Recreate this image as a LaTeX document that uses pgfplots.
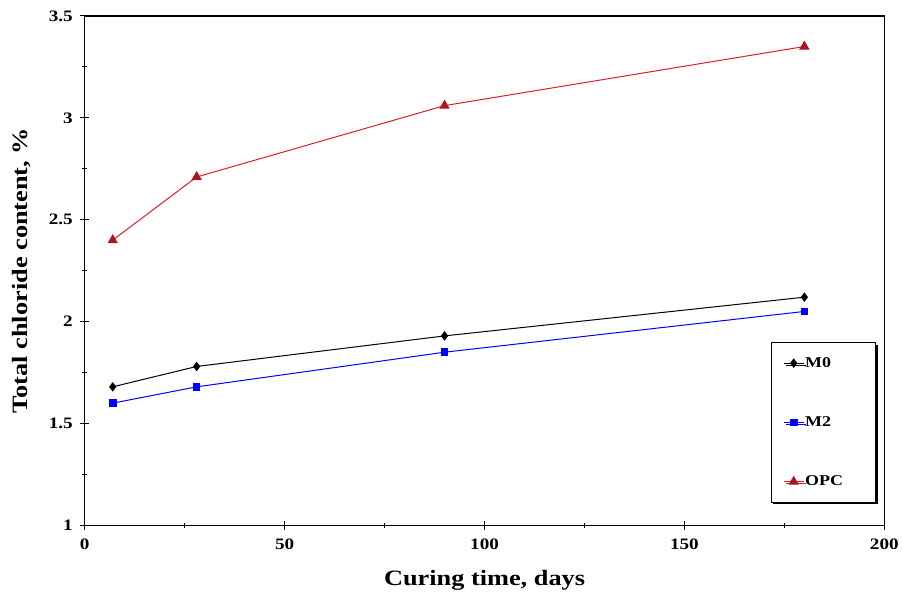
\documentclass[border=0pt]{standalone}
\usepackage{fontspec}
\setmainfont[FakeStretch=1.2]{Liberation Serif}
\usepackage{pgfplots}
\pgfplotsset{compat=1.18}
\usetikzlibrary{shadows}
\definecolor{opcline}{RGB}{220,30,40}
\definecolor{opcmark}{RGB}{175,20,30}
\begin{document}
\begin{tikzpicture}
\begin{axis}[
  at={(0pt,0pt)}, anchor=south west,
  scale only axis, width=802pt, height=511pt,
  xmin=0, xmax=200, ymin=1, ymax=3.5,
  xtick={0,50,...,200}, ytick={1,1.5,...,3.5},
  minor x tick num=1, minor y tick num=1,
  xtick pos=left, ytick pos=left,
  tick align=center,
  major tick length=9pt, minor tick length=5pt,
  axis line style={line width=1.3pt},
  every tick/.style={black, line width=1pt},
  tick label style={font=\fontsize{16}{18}\selectfont\bfseries},
  xticklabel style={yshift=-5pt},
  yticklabel style={/pgf/number format/fixed, xshift=-4pt},
  /pgf/number format/assume math mode=true,
  xlabel={Curing time, days},
  ylabel={Total chloride content, \%},
  label style={font=\fontsize{22}{24}\selectfont\bfseries},
  xlabel style={yshift=-14pt},
  ylabel style={yshift=11pt},
  legend cell align=left,
  legend image code/.code={\draw[#1, mark repeat=2, mark phase=2] plot coordinates {(0pt,0pt)(10pt,0pt)(20pt,0pt)};},
  legend style={at={(rel axis cs:0.858,0.36)}, anchor=north west,
    draw=black, line width=1pt, fill=white,
    font=\fontsize{15}{16}\selectfont\bfseries,
    inner xsep=12pt, inner ysep=14pt, row sep=46pt,
    nodes={inner sep=1pt, text width=58pt},
    drop shadow={shadow xshift=2pt, shadow yshift=-2pt, fill=black, opacity=1}},
]
\addplot[black, line width=1pt, mark=diamond*, mark size=4pt, mark options={solid, fill=black}]
  coordinates {(7,1.68) (28,1.78) (90,1.93) (180,2.12)};
\addlegendentry{M0}
\addplot[blue, line width=1pt, mark=square*, mark size=3.3pt, mark options={solid, fill=blue}]
  coordinates {(7,1.60) (28,1.68) (90,1.85) (180,2.05)};
\addlegendentry{M2}
\addplot[opcline, line width=1pt, mark=triangle*, mark size=5pt, mark options={solid, draw=opcmark, fill=opcmark}]
  coordinates {(7,2.40) (28,2.71) (90,3.06) (180,3.35)};
\addlegendentry{OPC}
\end{axis}
\useasboundingbox (-85pt,-68pt) rectangle (817pt,527pt);
\end{tikzpicture}
\end{document}
